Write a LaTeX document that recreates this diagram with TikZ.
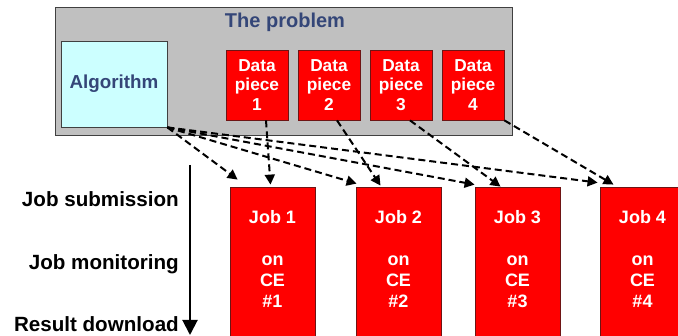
\documentclass[tikz,border=0pt]{standalone}
\usepackage{fontspec}
\setmainfont{Liberation Sans}
\usetikzlibrary{arrows.meta}
\definecolor{titleblue}{RGB}{52,70,120}
\definecolor{boxgrey}{RGB}{192,192,192}
\definecolor{algocyan}{RGB}{204,255,255}
\definecolor{darkred}{RGB}{110,20,20}
\begin{document}
\begin{tikzpicture}[x=1pt,y=-1pt,font=\bfseries,
	problem/.style={draw=black!75,fill=boxgrey,line width=1pt,minimum width=457pt,minimum height=128pt,inner sep=0pt},
	algo/.style={draw=black!75,fill=algocyan,line width=0.8pt,minimum width=106pt,minimum height=86pt,inner sep=0pt,text=titleblue,font=\fontsize{18.8}{20}\bfseries},
	piece/.style={draw=darkred,fill=red,line width=0.8pt,minimum width=62pt,minimum height=70pt,inner sep=0pt,text=white,align=center,font=\fontsize{17.3}{19.5}\bfseries},
	job/.style={draw=darkred,fill=red,line width=0.8pt,minimum width=85pt,minimum height=160pt,inner sep=0pt},
	jobtext/.style={text=white,align=center,inner sep=0pt,anchor=north,font=\fontsize{18}{21}\bfseries},
	stage/.style={anchor=base east,inner sep=0pt,font=\fontsize{20.6}{22}\bfseries},
	flow/.style={dash pattern=on 7pt off 4pt,line width=2pt,-{Triangle[length=10pt,width=10pt]}}]
\useasboundingbox (0,0) rectangle (678,336);
\clip (0,0) rectangle (678,336);

%----------------------------
% Top: the problem
%----------------------------
\node[problem] (prob) at (283.5,72) {};
\node[text=titleblue,font=\fontsize{20}{22}\bfseries,anchor=base] (title) at (285,28) {The problem};
\node[algo] (alg) at (114,84) {Algorithm};
\node[piece] (d1) at (257,85) {Data\\piece\\1};
\node[piece] (d2) at (329,85) {Data\\piece\\2};
\node[piece] (d3) at (401,85) {Data\\piece\\3};
\node[piece] (d4) at (473,85) {Data\\piece\\4};

%----------------------------
% Bottom: the jobs
%----------------------------
\node[job] (j1) at (272.5,267) {};
\node[job] (j2) at (398.5,267) {};
\node[job] (j3) at (517.5,267) {};
\node[job] (j4) at (642.5,267) {};
\node[jobtext] (t1) at ([yshift=-24pt]j1.north) {Job 1\\[21pt]on\\CE\\\#1};
\node[jobtext] (t2) at ([yshift=-24pt]j2.north) {Job 2\\[21pt]on\\CE\\\#2};
\node[jobtext] (t3) at ([yshift=-24pt]j3.north) {Job 3\\[21pt]on\\CE\\\#3};
\node[jobtext] (t4) at ([yshift=-24pt]j4.north) {Job 4\\[21pt]on\\CE\\\#4};

%----------------------------
% Left: the steps in time
%----------------------------
\node[stage] (sub) at (179,207) {Job submission};
\node[stage] (mon) at (179,270) {Job monitoring};
\node[stage] (res) at (179,332) {Result download};
\coordinate (tstart) at (190,165);
\coordinate (tend) at (190,335);
\draw[line width=2pt,-{Triangle[length=15pt,width=15pt]}] (tstart) -- (tend);

%----------------------------
% Arrows: algorithm and data to the jobs
%----------------------------
\draw[flow] (alg.south east) -- ([xshift=8pt,yshift=7pt]j1.north west);
\draw[flow] (alg.south east) -- ([xshift=1pt,yshift=3pt]j2.north west);
\draw[flow] (alg.south east) -- ([yshift=2pt]j3.north west);
\draw[flow] (alg.south east) -- ([xshift=-2pt,yshift=4pt]j4.north west);
\draw[flow] ([xshift=9pt]d1.south) -- ([xshift=-2pt,yshift=2pt]j1.north);
\draw[flow] ([xshift=8pt]d2.south) -- ([xshift=-18pt,yshift=1pt]j2.north);
\draw[flow] ([xshift=9pt]d3.south) -- ([xshift=-17pt]j3.north);
\draw[flow] (d4.south east) -- ([xshift=-29pt,yshift=2pt]j4.north);
\end{tikzpicture}
\end{document}
